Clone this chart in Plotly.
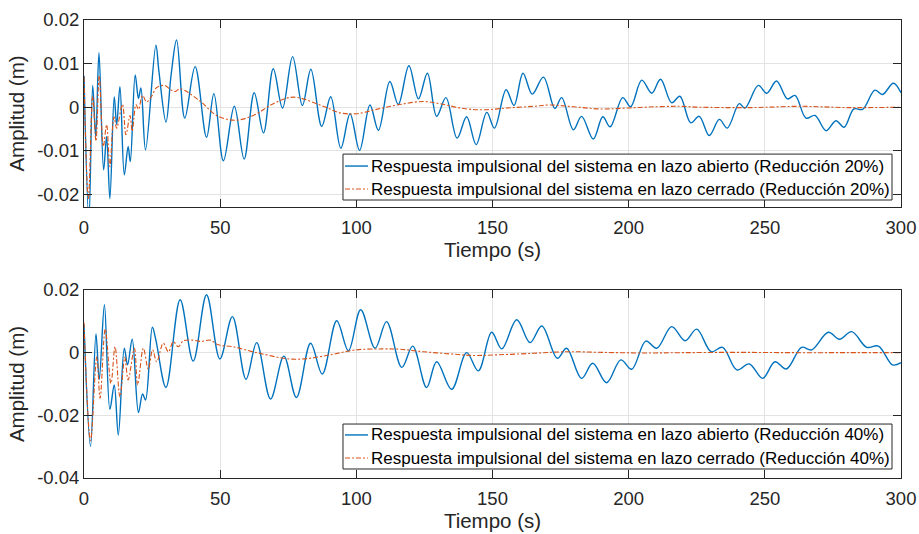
import plotly.graph_objects as go

# ---------------- data ----------------
# Top panel: Reducción 20%
t_open_20 = [0, 1.8, 3.2, 4.3, 5.5, 7.2, 8.3, 9.5, 11.1, 12.0, 13.2, 14.8, 16.2, 17.0, 18.8,
             20.0, 20.9, 22.6, 26.4, 27.5, 30.1, 32.0, 34.0, 37.0, 40.8, 45.0, 47.7, 51.2, 55.2,
             58.8, 62.5, 65.9, 69.5, 72.9, 76.6, 80.2, 83.3, 87.3, 90.6, 94.3, 97.7, 101.2, 105.0,
             108.1, 112.3, 115.4, 119.3, 122.8, 126.1, 129.5, 132.9, 137.0, 140.5, 144.0, 147.9,
             150.7, 155.0, 157.9, 161.2, 164.6, 168.7, 172.9, 175.4, 179.7, 182.7, 187.0, 190.5,
             193.2, 197.8, 200.7, 204.8, 208.5, 211.7, 215.8, 218.8, 222.8, 225.9, 229.6, 233.3,
             236.2, 240.6, 242.7, 247.6, 250.7, 254.3, 258.3, 261.1, 265.1, 268.4, 272.5, 276.1,
             279.1, 282.7, 285.9, 290.4, 293.2, 297.2, 300]
y_open_20 = [0.0072, -0.026, 0.0050, -0.0067, 0.0125, -0.0144, -0.0067, -0.0210, 0.0024, -0.0040,
             0.0047, -0.0155, -0.0090, -0.0125, 0.0074, 0.0020, 0.0044, -0.0098, 0.0142, 0.0083,
             -0.0034, 0.0075, 0.0154, -0.0025, 0.0093, -0.0069, 0.0031, -0.0123, 0.0002, -0.0119,
             0.0033, -0.0059, 0.0088, -0.0002, 0.0116, 0.0004, 0.0087, -0.0044, 0.0024, -0.0094,
             -0.0015, -0.0099, 0.0005, -0.0053, 0.0059, 0.0006, 0.0095, 0.0019, 0.0078, -0.0021,
             0.0022, -0.0071, -0.0022, -0.0086, -0.0012, -0.0048, 0.0040, 0.0004, 0.0078, 0.0030,
             0.0069, -0.0003, 0.0022, -0.0052, -0.0021, -0.0073, -0.0022, -0.0045, 0.0022, 0.0001,
             0.0062, 0.0032, 0.0064, 0.0010, 0.0025, -0.0036, -0.0021, -0.0065, -0.0028, -0.0048,
             0.0008, -0.0002, 0.0050, 0.0032, 0.0060, 0.0019, 0.0027, -0.0025, -0.0019, -0.0054,
             -0.0031, -0.0046, -0.0004, -0.0005, 0.0039, 0.0029, 0.0055, 0.0033]

t_closed_20 = [0, 1.6, 3.2, 4.4, 5.6, 7.1, 8.3, 9.5, 11.0, 12.0, 14.1, 15.4, 16.9, 17.7, 19.1,
               20.0, 21.5, 23.0, 24.8, 26.7, 29.7, 31.6, 33.4, 35.3, 42.6, 48.7, 55.4, 62.2, 69.5,
               76.9, 87.9, 94.0, 100.0, 107.4, 115.9, 124.6, 130.7, 139.3, 146.6, 155.2, 165.0,
               171.0, 179.7, 189.5, 199.3, 210.0, 218.8, 226.0, 244.6, 262.9, 281.0, 300]
y_closed_20 = [0.0070, -0.0210, 0.0025, -0.0078, 0.0072, -0.0090, -0.0040, -0.0136, -0.0022, -0.0048,
               0.0006, -0.0063, -0.0019, -0.0055, 0.0006, -0.0005, 0.0027, 0.0012, 0.0025, 0.0045,
               0.0050, 0.0041, 0.0036, 0.0042, 0.0014, -0.0019, -0.0030, -0.0019, 0.0008, 0.0023,
               0.0002, -0.0013, -0.0015, -0.0005, 0.0006, 0.0013, 0.0008, -0.0003, -0.0006, -0.0002,
               0.0002, 0.0005, 0.0001, -0.0004, -0.0002, 0.0001, 0.0002, 0.0000, -0.0001, 0.0002,
               -0.0001, 0.0000]

# Bottom panel: Reducción 40%
t_open_40 = [0, 2.4, 4.4, 5.6, 7.5, 9.5, 11.1, 12.6, 14.8, 16.0, 17.7, 20.0, 21.5, 22.6, 25.1,
             26.4, 30.1, 35.3, 40.1, 45.0, 49.9, 54.5, 59.5, 63.4, 68.5, 73.4, 78.0, 83.2, 87.5,
             92.8, 97.1, 101.6, 106.9, 111.1, 116.7, 120.7, 125.8, 129.5, 135.0, 140.5, 144.8,
             149.7, 153.4, 158.9, 163.8, 168.1, 173.8, 177.2, 182.7, 186.8, 191.9, 197.1, 201.1,
             206.3, 210.3, 215.8, 220.7, 225.0, 230.3, 234.5, 239.7, 244.3, 249.2, 253.7, 257.9,
             263.5, 267.2, 273.3, 277.4, 281.9, 287.4, 291.7, 296.9, 300]
y_open_40 = [0.0090, -0.0299, 0.0060, -0.0085, 0.0153, -0.0181, -0.0103, -0.0263, 0.0014, -0.0039,
             0.0043, -0.0191, -0.0132, -0.0151, 0.0081, 0.0040, -0.0111, 0.0169, -0.0027, 0.0185,
             -0.0020, 0.0115, -0.0085, 0.0032, -0.0148, -0.0011, -0.0143, 0.0030, -0.0068, 0.0102,
             0.0006, 0.0137, 0.0014, 0.0099, -0.0047, 0.0021, -0.0111, -0.0029, -0.0117, 0.0000,
             -0.0058, 0.0065, 0.0012, 0.0105, 0.0032, 0.0085, -0.0018, 0.0014, -0.0082, -0.0034,
             -0.0096, -0.0023, -0.0053, 0.0037, 0.0014, 0.0083, 0.0038, 0.0075, 0.0003, 0.0017,
             -0.0055, -0.0036, -0.0082, -0.0029, -0.0052, 0.0017, 0.0009, 0.0065, 0.0043, 0.0067,
             0.0017, 0.0021, -0.0039, -0.0032]

t_closed_40 = [0, 2.4, 4.7, 5.9, 7.8, 9.9, 11.4, 13.2, 15.0, 16.2, 18.5, 19.7, 21.8, 23.6, 25.2,
               26.7, 29.1, 31.0, 32.8, 34.6, 36.5, 39.9, 43.0, 46.3, 49.3, 54.8, 61.0, 67.1, 73.2,
               78.1, 83.0, 90.3, 100.0, 109.9, 116.0, 124.6, 134.4, 143.0, 151.5, 165.0, 177.2,
               190.0, 205.0, 220.0, 240.0, 260.0, 280.0, 300]
y_closed_40 = [0.0096, -0.0280, -0.0013, -0.0146, 0.0075, -0.0098, 0.0019, -0.0141, -0.0015, -0.0087,
               0.0014, -0.0103, 0.0014, -0.0053, 0.0009, -0.0029, 0.0030, 0.0003, 0.0035, 0.0019,
               0.0038, 0.0040, 0.0036, 0.0040, 0.0025, 0.0019, 0.0005, -0.0007, -0.0018, -0.0021,
               -0.0018, -0.0007, 0.0009, 0.0012, 0.0011, 0.0003, -0.0004, -0.0009, -0.0007, -0.0002,
               0.0003, 0.0001, -0.0001, 0.0000, 0.0001, 0.0000, 0.0000, 0.0000]

names_20 = ["Respuesta impulsional del sistema en lazo abierto (Reducción 20%)",
            "Respuesta impulsional del sistema en lazo cerrado (Reducción 20%)"]
names_40 = ["Respuesta impulsional del sistema en lazo abierto (Reducción 40%)",
            "Respuesta impulsional del sistema en lazo cerrado (Reducción 40%)"]

x_ticks = [0, 50, 100, 150, 200, 250, 300]
x_ticktext = ["0", "50", "100", "150", "200", "250", "300"]
y1_ticks = [-0.02, -0.01, 0, 0.01, 0.02]
y1_ticktext = ["-0.02", "-0.01", "0", "0.01", "0.02"]
y2_ticks = [-0.04, -0.02, 0, 0.02]
y2_ticktext = ["-0.04", "-0.02", "0", "0.02"]

x_label = "Tiempo (s)"
y_label = "Amplitud (m)"

# ---------------- styling ----------------
BLUE = "#0072BD"
ORANGE = "#D95319"
AX = "#262626"
GRID = "#E3E3E3"
FONT = "Liberation Sans, Arial, Helvetica, sans-serif"
DASHDOT = "5px,2px,2px,2px"

fig = go.Figure()

fig.add_trace(go.Scatter(x=t_open_20, y=y_open_20, name=names_20[0], mode="lines",
                         line=dict(color=BLUE, width=1.4, shape="spline", smoothing=1.0),
                         xaxis="x", yaxis="y", showlegend=False))
fig.add_trace(go.Scatter(x=t_closed_20, y=y_closed_20, name=names_20[1], mode="lines",
                         line=dict(color=ORANGE, width=1.1, dash=DASHDOT,
                                   shape="spline", smoothing=1.0),
                         xaxis="x", yaxis="y", showlegend=False))
fig.add_trace(go.Scatter(x=t_open_40, y=y_open_40, name=names_40[0], mode="lines",
                         line=dict(color=BLUE, width=1.4, shape="spline", smoothing=1.0),
                         xaxis="x2", yaxis="y2", showlegend=False))
fig.add_trace(go.Scatter(x=t_closed_40, y=y_closed_40, name=names_40[1], mode="lines",
                         line=dict(color=ORANGE, width=1.1, dash=DASHDOT,
                                   shape="spline", smoothing=1.0),
                         xaxis="x2", yaxis="y2", showlegend=False))

common_axis = dict(showgrid=True, gridcolor=GRID, gridwidth=1, zeroline=False,
                   showline=True, linecolor=AX, linewidth=1, mirror="ticks",
                   ticks="inside", ticklen=8, tickcolor=AX, tickwidth=1, automargin=False,
                   tickfont=dict(family=FONT, size=18.5, color=AX))

xa = dict(common_axis, range=[0, 300], tickmode="array", tickvals=x_ticks, ticktext=x_ticktext,
          ticklabelstandoff=4,
          title=dict(text=x_label, font=dict(family=FONT, size=20.5, color=AX), standoff=2))


def ya(rng, vals, txt, dom, anchor):
    return dict(common_axis, domain=dom, anchor=anchor, range=rng,
                tickmode="array", tickvals=vals, ticktext=txt,
                title=dict(text=y_label, font=dict(family=FONT, size=20.5, color=AX), standoff=6))


# ----- legend boxes drawn as shapes + text annotations (MATLAB-style compact legend) -----
shapes = []
annotations = []


def add_legend(xref, yref, y0, y1, row_y, labels):
    shapes.append(dict(type="rect", xref=xref, yref=yref, x0=0.317, x1=0.989, y0=y0, y1=y1,
                       fillcolor="white", line=dict(color=AX, width=1), layer="above"))
    styles = [dict(color=BLUE, width=1.4), dict(color=ORANGE, width=1.1, dash=DASHDOT)]
    for ry, lab, st in zip(row_y, labels, styles):
        shapes.append(dict(type="line", xref=xref, yref=yref, x0=0.3195, x1=0.3476,
                           y0=ry, y1=ry, line=st, layer="above"))
        annotations.append(dict(xref=xref, yref=yref, x=0.3485, y=ry, text=lab,
                                showarrow=False, xanchor="left", yanchor="middle",
                                font=dict(family=FONT, size=17, color="#000000")))


add_legend("x domain", "y domain", 0.0374, 0.283, [0.219, 0.096], names_20)
add_legend("x2 domain", "y2 domain", 0.0479, 0.287, [0.229, 0.106], names_40)

fig.update_layout(
    width=919, height=534,
    margin=dict(l=84, r=18, t=20, b=56),
    paper_bgcolor="white", plot_bgcolor="white",
    font=dict(family=FONT, color=AX),
    xaxis=dict(xa, domain=[0, 1], anchor="y"),
    yaxis=ya([-0.0229, 0.02], y1_ticks, y1_ticktext, [0.5917, 1.0], "x"),
    xaxis2=dict(xa, domain=[0, 1], anchor="y2"),
    yaxis2=ya([-0.04, 0.02], y2_ticks, y2_ticktext, [0.0, 0.4105], "x2"),
    shapes=shapes,
    annotations=annotations,
    showlegend=False,
)

fig.write_html("out.html")
